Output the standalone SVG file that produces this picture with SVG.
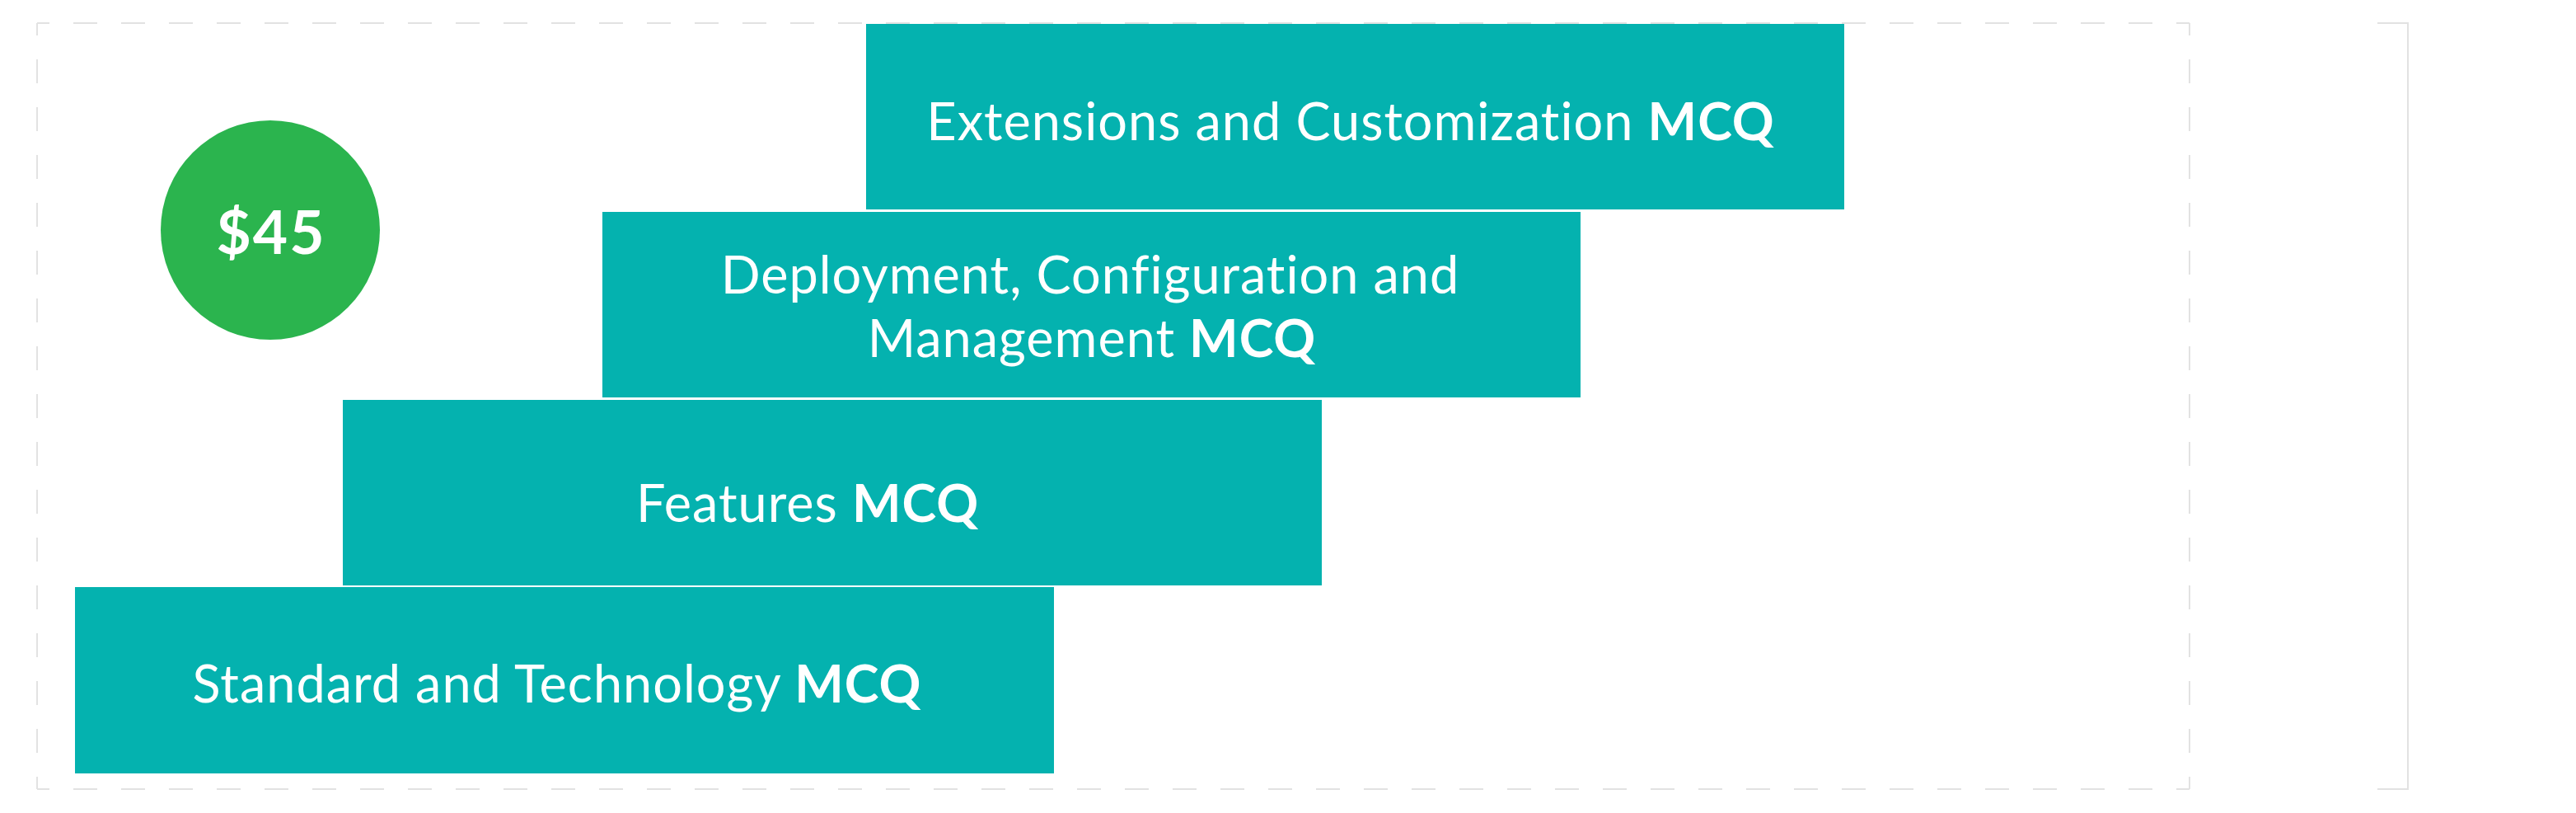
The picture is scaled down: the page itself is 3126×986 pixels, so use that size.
<svg xmlns="http://www.w3.org/2000/svg" width="3126" height="986" viewBox="0 0 3126 986">
<style>
.dash{stroke:#e2e2e2;stroke-width:2;stroke-dasharray:29 29;stroke-dashoffset:14;fill:none}
.frame{stroke:#e2e2e2;stroke-width:2;fill:none}
.box{fill:#04b2af}
.lbl{font-family:Lato,"Liberation Sans",sans-serif;font-size:63px;font-weight:400;fill:#ffffff;text-anchor:middle;font-variant-ligatures:none;letter-spacing:1px}
.b{font-weight:700}
.price{font-family:Lato,"Liberation Sans",sans-serif;font-size:73px;font-weight:700;fill:#ffffff;text-anchor:middle;letter-spacing:2px}
</style>
<rect width="3126" height="986" fill="#ffffff"/>
<g id="border">
<line class="dash" x1="45" y1="28" x2="2657" y2="28"/>
<line class="dash" x1="2657" y1="28" x2="2657" y2="957"/>
<line class="dash" x1="45" y1="957" x2="2657" y2="957"/>
<line class="dash" x1="45" y1="28" x2="45" y2="957"/>
<path class="frame" d="M2885 28 H2922 V957 H2885"/>
</g>
<g id="price">
<circle cx="328" cy="279" r="133" fill="#2bb44e"/>
<text class="price" x="329" y="308">$45</text>
</g>
<g id="step4">
<rect class="box" x="91" y="712" width="1188" height="226"/>
<text class="lbl" x="676" y="852">Standard and Technology <tspan class="b">MCQ</tspan></text>
</g>
<g id="step3">
<rect class="box" x="416" y="485" width="1188" height="225"/>
<text class="lbl" x="980" y="633">Features <tspan class="b">MCQ</tspan></text>
</g>
<g id="step2">
<rect class="box" x="731" y="257" width="1187" height="225"/>
<text class="lbl" x="1323" y="356">Deployment, Configuration and</text>
<text class="lbl" x="1325" y="433">Management <tspan class="b">MCQ</tspan></text>
</g>
<g id="step1">
<rect class="box" x="1051" y="29" width="1187" height="225"/>
<text class="lbl" x="1639" y="170">Extensions and Customization <tspan class="b">MCQ</tspan></text>
</g>
<g id="connectors"></g>
</svg>
